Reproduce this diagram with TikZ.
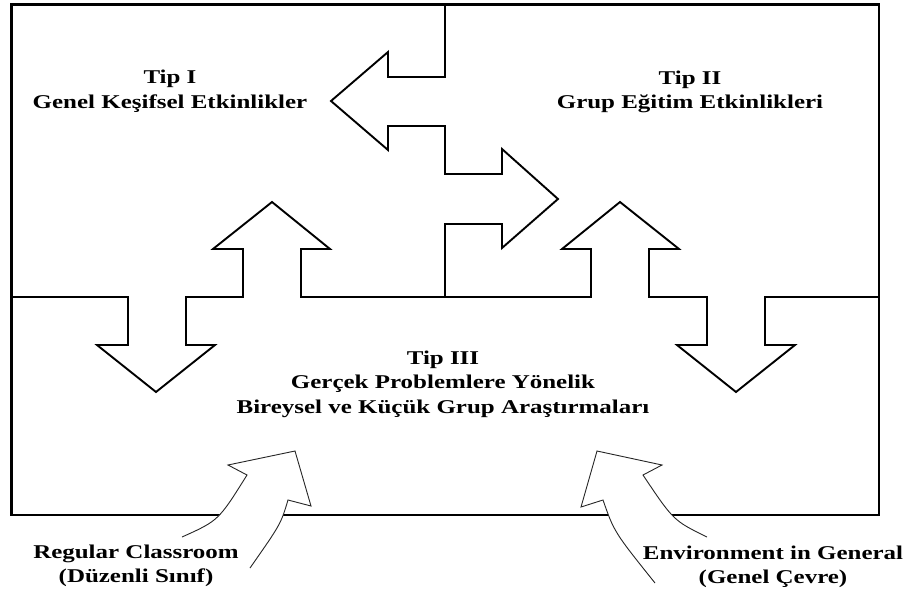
\documentclass[tikz,border=0pt]{standalone}
\usepackage{fontspec}
\newfontfamily\labelfont[FakeStretch=1.28]{Liberation Serif}
\begin{document}
\begin{tikzpicture}[x=1pt, y=-1pt,
  frame/.style={draw=black, line width=2.4pt},
  divider/.style={draw=black, line width=1.9pt, line join=miter},
  inflow/.style={draw=black!85, line width=0.9pt, fill=white, line join=miter},
  lbl/.style={font=\labelfont\bfseries\fontsize{19.5}{24.5}\selectfont, align=center, inner sep=0pt}]
\useasboundingbox (0,0) rectangle (906,595);

% outer frame
\draw[frame] (11.5,4.5) rectangle (879,515);

% vertical divider between Tip I and Tip II, with the two side arrows
\draw[divider] (445,4.5) -- (445,77) -- (388,77) -- (388,52) -- (331,101)
  -- (388,150) -- (388,126) -- (445,126) -- (445,174) -- (502,174)
  -- (502,149) -- (558,199) -- (502,248) -- (502,224) -- (445,224) -- (445,297);

% horizontal divider above Tip III, with the up and down arrows
\draw[divider] (11.5,297) -- (128,297) -- (128,345) -- (97,345) -- (156,392)
  -- (215,345) -- (186,345) -- (186,297) -- (243,297) -- (243,249)
  -- (213,249) -- (272,202) -- (330,249) -- (301,249) -- (301,297)
  -- (591,297) -- (591,249) -- (562,249) -- (620,202) -- (679,249)
  -- (649,249) -- (649,297) -- (707,297) -- (707,345) -- (677,345)
  -- (736,392) -- (795,345) -- (765,345) -- (765,297) -- (879,297);

% curved inflow arrows entering through the bottom edge
\path[inflow] (182,537) .. controls (218.5,520.6) .. (247,475) -- (228,465)
  -- (295,451) -- (311,506) -- (288,500) .. controls (280.8,524) .. (250,568);
\path[inflow] (707,537) .. controls (673.5,520.6) .. (643,475) -- (662,465)
  -- (597,451) -- (581,507) -- (603,500) .. controls (614.2,532) .. (655,583);

% labels
\node[lbl] (tip1) at (170,91) {Tip I\\Genel Keşifsel Etkinlikler};
\node[lbl] (tip2) at (690,92) {Tip II\\Grup Eğitim Etkinlikleri};
\node[lbl] (tip3) at (443,384) {Tip III\\Gerçek Problemlere Yönelik\\Bireysel ve Küçük Grup Araştırmaları};
\node[lbl] (classroom) at (136,566) {Regular Classroom\\(Düzenli Sınıf)};
\node[lbl] (environment) at (773,567) {Environment in General\\(Genel Çevre)};
\end{tikzpicture}
\end{document}
